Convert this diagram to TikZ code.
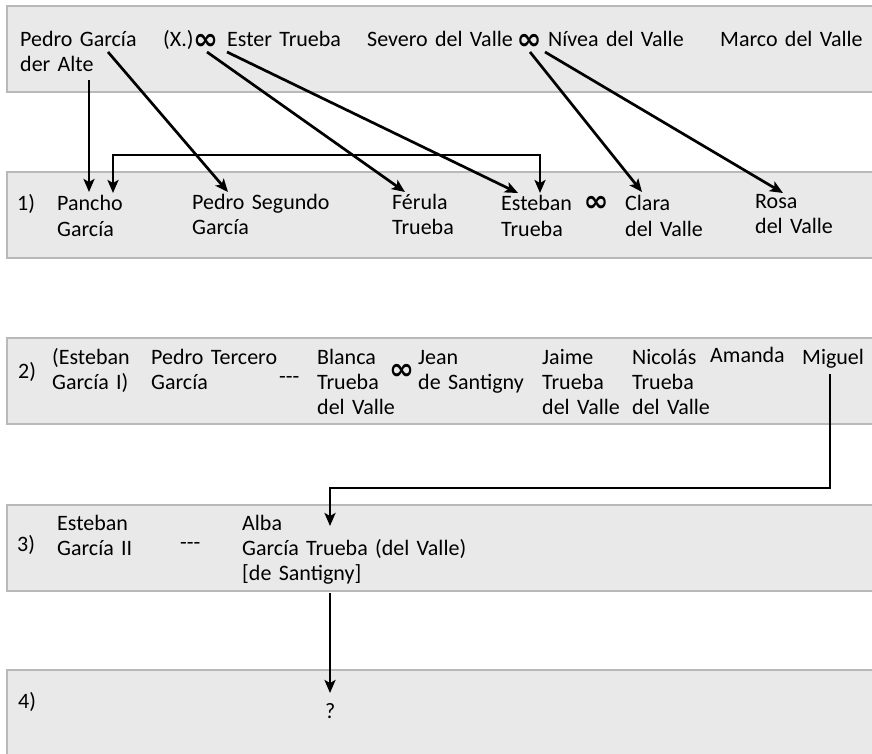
\documentclass[tikz,border=0pt]{standalone}
\usepackage{fontspec}
\setmainfont{Carlito}
\newfontfamily\symfont{DejaVu Sans}
\usetikzlibrary{arrows.meta}
\newcommand{\namefont}{\fontsize{22}{25}\selectfont}

\begin{document}
\begin{tikzpicture}[x=1pt, y=-1pt,
        band/.style={draw=gray!55, fill=gray!17, line width=2.5pt},
        person/.style={anchor=base west, inner sep=0pt, align=left, text width=10cm, font=\namefont},
        marriage/.style={inner sep=0pt, font=\symfont\bfseries\fontsize{30}{30}\selectfont},
        arrow/.style={-{Stealth[length=13pt, width=11pt, inset=3pt]}, line width=2.7pt},
        biarrow/.style={{Stealth[length=13pt, width=11pt, inset=3pt]}-{Stealth[length=13pt, width=11pt, inset=3pt]}, line width=2.7pt}
    ]
        \useasboundingbox (0,0) rectangle (872,754);

        % Generation bands
        \foreach \ytop in {6,172,338,505,670}
            \draw[band] (7,\ytop) rectangle (882,\ytop+86);

        % Ancestors
        \node[person] (pedro) at (20,47) {Pedro García\\der Alte};
        \node[person] (xman) at (163,47) {(X.)};
        \node[marriage] (m0) at (205.5,42) {∞};
        \node[person] (ester) at (227,47) {Ester Trueba};
        \node[person] (severo) at (367,47) {Severo del Valle};
        \node[marriage] (m1) at (529,42) {∞};
        \node[person] (nivea) at (548,47) {Nívea del Valle};
        \node[person] (marco) at (720,47) {Marco del Valle};

        % Generation 1
        \node[person] (gen1) at (17,211) {1)};
        \node[person] (pancho) at (57,211) {Pancho\\García};
        \node[person] (segundo) at (192,209) {Pedro Segundo\\García};
        \node[person] (ferula) at (392,209) {Férula\\Trueba};
        \node[person] (esteban) at (501,211) {Esteban\\Trueba};
        \node[marriage] (m2) at (596,204) {∞};
        \node[person] (clara) at (625,211) {Clara\\del Valle};
        \node[person] (rosa) at (755,208) {Rosa\\del Valle};

        % Generation 2
        \node[person] (gen2) at (18,378) {2)};
        \node[person] (estebanI) at (52,364) {(Esteban\\García I)};
        \node[person] (tercero) at (151,364) {Pedro Tercero\\García};
        \node[person] (dash2) at (279,383) {-{}-{}-};
        \node[person] (blanca) at (317,364) {Blanca\\Trueba\\del Valle};
        \node[marriage] (m3) at (401.5,372) {∞};
        \node[person] (jean) at (418,364) {Jean\\de Santigny};
        \node[person] (jaime) at (542,364) {Jaime\\Trueba\\del Valle};
        \node[person] (nicolas) at (632,364) {Nicolás\\Trueba\\del Valle};
        \node[person] (amanda) at (710,362) {Amanda};
        \node[person] (miguel) at (802,364) {Miguel};

        % Generation 3
        \node[person] (gen3) at (17,551) {3)};
        \node[person] (estebanII) at (57,530) {Esteban\\García II};
        \node[person] (dash3) at (180,549) {-{}-{}-};
        \node[person] (alba) at (242,530) {Alba\\García Trueba (del Valle)\\{[de Santigny]}};

        % Generation 4
        \node[person] (gen4) at (18,708) {4)};
        \node[person] (unknown) at (325,718) {?};

        % Descent lines
        \draw[arrow] ([xshift=69pt, yshift=-33pt]pedro.base west) -- ([xshift=32pt, yshift=19pt]pancho.base west);
        \draw[arrow] ([xshift=88pt, yshift=-5pt]pedro.base west) -- ([xshift=36pt, yshift=17pt]segundo.base west);
        \draw[arrow] ([xshift=1.5pt, yshift=-10pt]m0.center) -- ([xshift=13pt, yshift=17pt]ferula.base west);
        \draw[arrow] ([yshift=-5pt]ester.base west) -- ([xshift=17pt, yshift=18pt]esteban.base west);
        \draw[biarrow] ([xshift=39pt, yshift=18pt]esteban.base west) -- ++(0,-38) -| ([xshift=56pt, yshift=18pt]pancho.base west);
        \draw[arrow] ([xshift=1pt, yshift=-10pt]m1.center) -- ([xshift=17pt, yshift=19pt]clara.base west);
        \draw[arrow] ([xshift=-3pt, yshift=-5pt]nivea.base west) -- ([xshift=28pt, yshift=15pt]rosa.base west);
        \draw[arrow] ([xshift=28pt, yshift=-10pt]miguel.base west) -- ++(0,114) -| ([xshift=88pt, yshift=4pt]alba.base west);
        \draw[arrow] ([xshift=88pt, yshift=-63pt]alba.base west) -- ([xshift=5pt, yshift=25pt]unknown.base west);
    \end{tikzpicture}
\end{document}
